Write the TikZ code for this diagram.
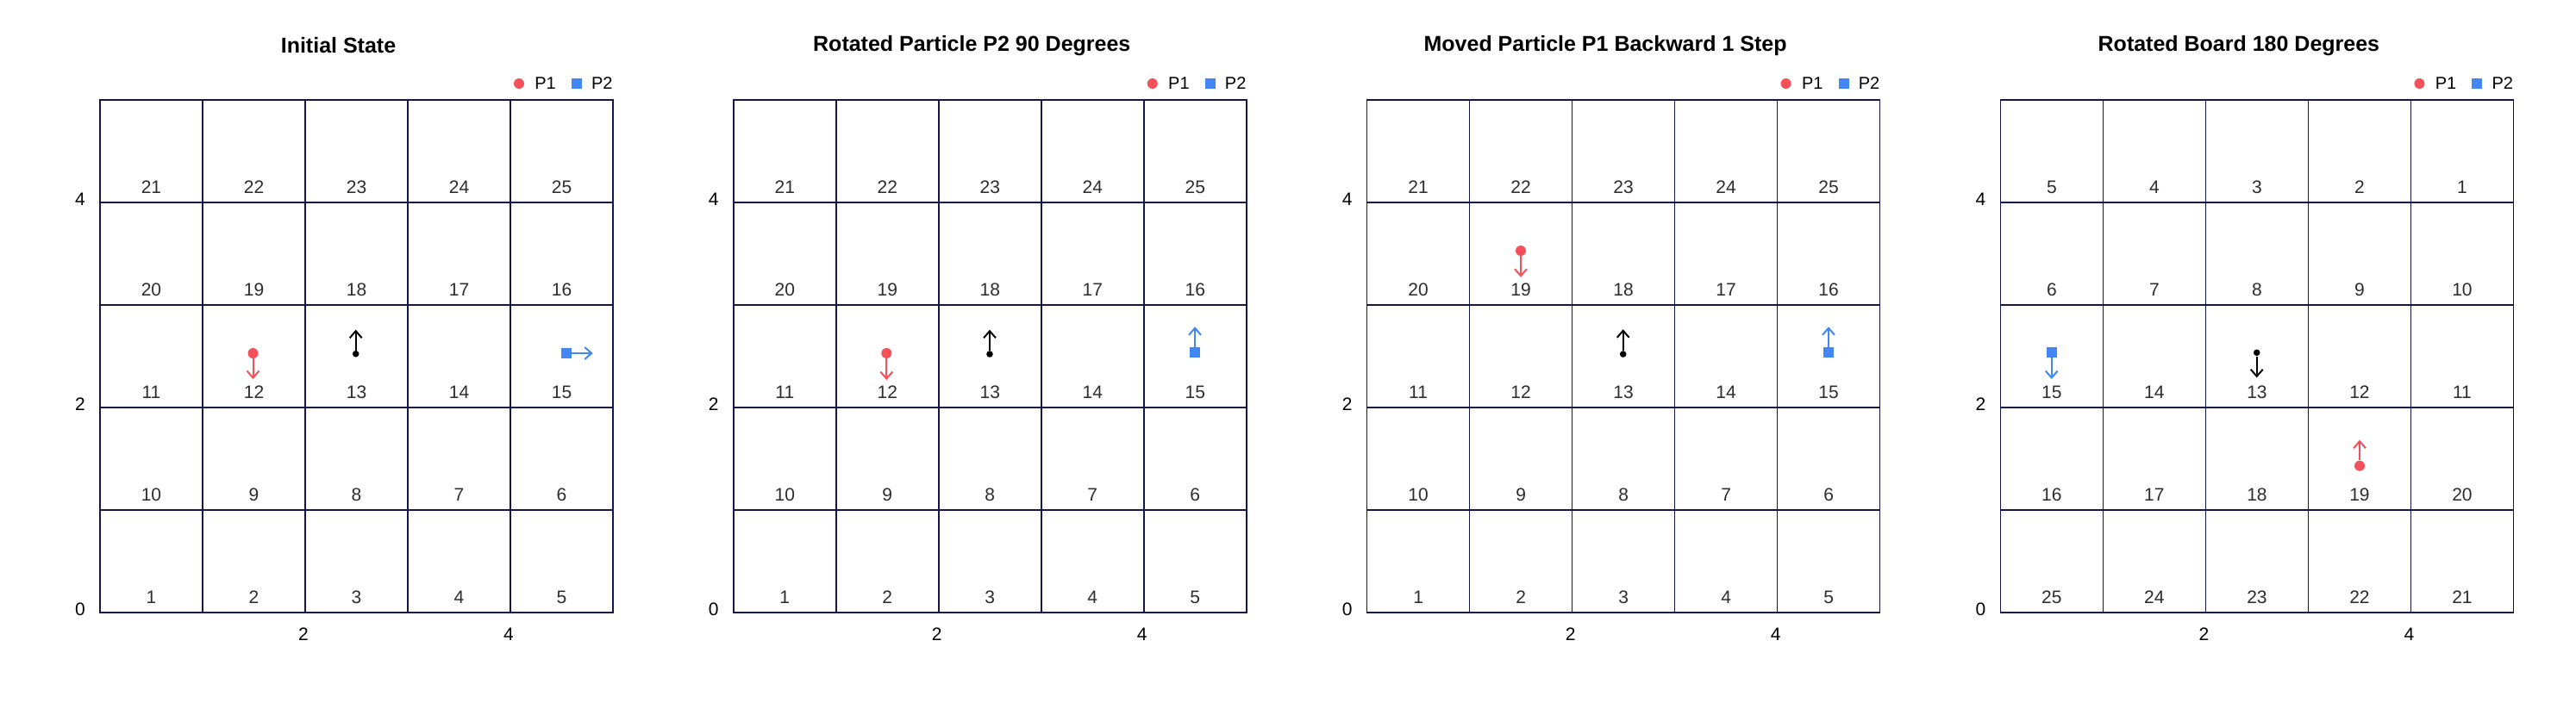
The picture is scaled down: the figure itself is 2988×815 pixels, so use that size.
\documentclass[tikz,border=0pt]{standalone}
\usepackage{fontspec}
\setmainfont{Liberation Sans}
\usetikzlibrary{arrows.meta}
\definecolor{gridc}{RGB}{22,22,72}
\definecolor{pred}{RGB}{244,80,90}
\definecolor{pblue}{RGB}{66,135,245}
\definecolor{numc}{RGB}{45,45,45}
\begin{document}
\begin{tikzpicture}[x=0.5pt,y=-0.5pt,
  gridline/.style={draw=gridc,line width=0.8pt},
  cellnum/.style={inner sep=0pt,text=numc,font=\fontsize{10.5}{12}\selectfont},
  ticklab/.style={inner sep=0pt,text=black,font=\fontsize{10.5}{12}\selectfont},
  ttl/.style={inner sep=0pt,text=black,font=\bfseries\fontsize{12.5}{14}\selectfont},
  legtxt/.style={inner sep=0pt,text=black,font=\fontsize{10}{12}\selectfont},
  p1dot/.style={circle,fill=pred,inner sep=0pt,minimum size=6pt},
  p2sq/.style={rectangle,fill=pblue,inner sep=0pt,minimum size=6pt},
  bdot/.style={circle,fill=black,inner sep=0pt,minimum size=3.8pt},
  parrow/.style={line width=1pt,-{Straight Barb[length=4pt,width=7pt]}}
]
\useasboundingbox (0,0) rectangle (2988,815);
\fill[white] (0,0) rectangle (2988,815);
\foreach \k/\ttltext in {0/Initial State,1/Rotated Particle P2 90 Degrees,2/Moved Particle P1 Backward 1 Step,3/Rotated Board 180 Degrees}{
  \pgfmathsetmacro\L{116+734.8*\k}
  % grid
  \draw[gridline] (\L,116) rectangle ++(595,595);
  \foreach \i in {1,...,4}{
    \draw[gridline] (\L+119*\i,116) -- ++(0,595);
    \draw[gridline] (\L,116+119*\i) -- ++(595,0);
  }
  % cell numbers
  \foreach \r in {0,...,4}{
    \foreach \c in {0,...,4}{
      \pgfmathtruncatemacro\cc{\k==3 ? 4-\c : \c}
      \pgfmathtruncatemacro\rr{\k==3 ? 4-\r : \r}
      \pgfmathtruncatemacro\lab{mod(\rr,2)==0 ? \rr*5+\cc+1 : \rr*5+5-\cc}
      \node[cellnum] (n\k-\c-\r) at (\L+59.5+119*\c, 711-119*\r-18) {\lab};
    }
  }
  % ticks
  \foreach \t in {0,2,4}{
    \node[ticklab] (yt\k-\t) at (\L-23, 711-119*\t-4) {\t};
  }
  \foreach \t in {2,4}{
    \node[ticklab] (xt\k-\t) at (\L+119*\t-2, 736) {\t};
  }
  % title
  \node[ttl] (title\k) at (\L+297.5-21, 53) {\ttltext};
  % legend
  \node[p1dot] (legdot\k) at (\L+486, 97) {};
  \node[legtxt,anchor=west] (legp1\k) at (\L+504, 97) {P1};
  \node[p2sq] (legsq\k) at (\L+553, 97) {};
  \node[legtxt,anchor=east] (legp2\k) at (\L+595, 97) {P2};
}
% Panel 1 markers
\node[p1dot] (a1) at (293.5,410) {}; \coordinate (a1t) at (293.5,440);
\node[bdot] (b1) at (412.7,410.7) {}; \coordinate (b1t) at (412.7,382.7);
\node[p2sq] (c1) at (657,410) {}; \coordinate (c1t) at (687.7,410);
\draw[parrow,pred] (a1) -- (a1t);
\draw[parrow,black] (b1) -- (b1t);
\draw[parrow,pblue] (c1) -- (c1t);
% Panel 2 markers
\node[p1dot] (a2) at (1028.3,410) {}; \coordinate (a2t) at (1028.3,441);
\node[bdot] (b2) at (1148,411) {}; \coordinate (b2t) at (1148,382.7);
\node[p2sq] (c2) at (1386,409.2) {}; \coordinate (c2t) at (1386,379.3);
\draw[parrow,pred] (a2) -- (a2t);
\draw[parrow,black] (b2) -- (b2t);
\draw[parrow,pblue] (c2) -- (c2t);
% Panel 3 markers
\node[p1dot] (a3) at (1764,291) {}; \coordinate (a3t) at (1764,321.7);
\node[bdot] (b3) at (1882.7,411) {}; \coordinate (b3t) at (1882.7,382.3);
\node[p2sq] (c3) at (2121,409) {}; \coordinate (c3t) at (2121,379.3);
\draw[parrow,pred] (a3) -- (a3t);
\draw[parrow,black] (b3) -- (b3t);
\draw[parrow,pblue] (c3) -- (c3t);
% Panel 4 markers
\node[p2sq] (c4) at (2379.7,409) {}; \coordinate (c4t) at (2379.7,440);
\node[bdot] (b4) at (2617.7,409.3) {}; \coordinate (b4t) at (2617.7,438.3);
\node[p1dot] (a4) at (2737,540.7) {}; \coordinate (a4t) at (2737,510.7);
\draw[parrow,pred] (a4) -- (a4t);
\draw[parrow,black] (b4) -- (b4t);
\draw[parrow,pblue] (c4) -- (c4t);
\end{tikzpicture}
\end{document}
